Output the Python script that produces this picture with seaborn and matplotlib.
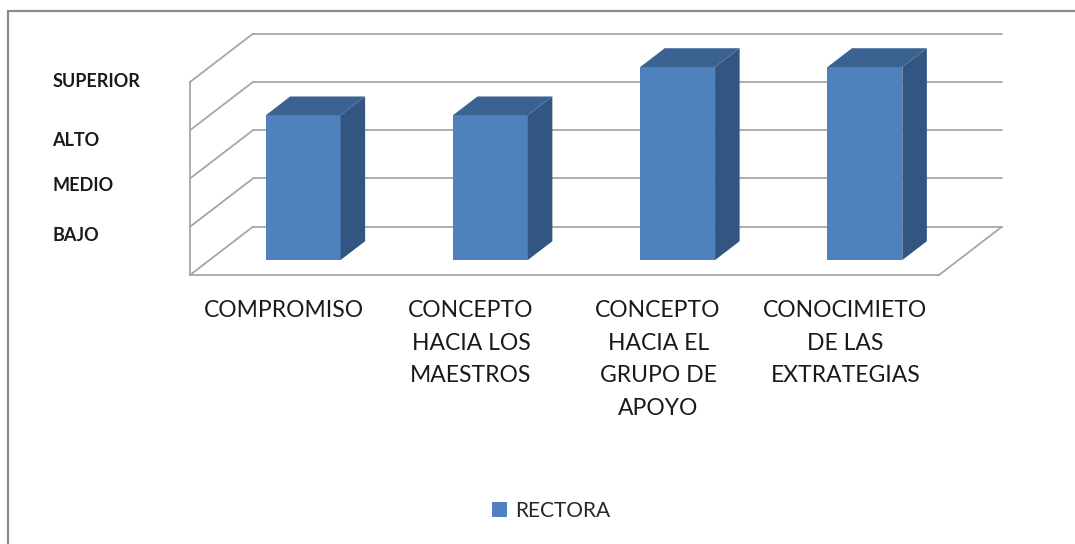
import matplotlib
matplotlib.use("Agg")
import matplotlib.pyplot as plt
import seaborn as sns
from matplotlib.patches import Polygon, Patch
from matplotlib.lines import Line2D

# -------------------------------
# Data
# -------------------------------
categories = [
    "COMPROMISO",
    "CONCEPTO\nHACIA LOS\nMAESTROS",
    "CONCEPTO\nHACIA EL\nGRUPO DE\nAPOYO",
    "CONOCIMIETO\nDE LAS\nEXTRATEGIAS",
]
rectora = [3, 3, 4, 4]
level_names = ["BAJO", "MEDIO", "ALTO", "SUPERIOR"]
level_values = [1, 2, 3, 4]
series_name = "RECTORA"

# -------------------------------
# Style
# -------------------------------
sns.set_style("white")
plt.rcParams["font.family"] = ["Lato", "DejaVu Sans"]

FRONT = "#4F81BD"
SIDE = "#325581"
TOP = "#3B6391"
GRID = "#A6A6A6"

# depth of the 3D box in data units (x: categories, y: levels)
DX, DY = 0.336, 1.0
BAR_FRONT = 0.31   # depth fraction where the bar front face sits
BAR_DEPTH = 0.39   # depth fraction of the bar itself

fig = plt.figure(figsize=(10.75, 5.44), dpi=100)
ax = fig.add_axes([190 / 1075, 1 - 275 / 544, 749 / 1075, 193 / 544])

# back wall + left wall gridlines
for lv in [0] + level_values:
    ax.plot([-0.5 + DX, 3.5 + DX], [lv + DY, lv + DY], color=GRID, lw=1.3,
            clip_on=False, zorder=1)
    ax.plot([-0.5, -0.5 + DX], [lv, lv + DY], color=GRID, lw=1.3,
            clip_on=False, zorder=1)
# right floor edge
ax.plot([3.5, 3.5 + DX], [0, DY], color=GRID, lw=1.3, clip_on=False, zorder=1)

# front faces through seaborn
sns.barplot(x=list(range(len(categories))), y=rectora, color=FRONT,
            width=0.4, saturation=1, ax=ax, zorder=3, linewidth=0)

for p in ax.patches:
    p.set_clip_on(False)
    p.set_x(p.get_x() + BAR_FRONT * DX)
    p.set_y(BAR_FRONT * DY)
    x0, y0 = p.get_x(), p.get_y()
    x1, y1 = x0 + p.get_width(), y0 + p.get_height()
    dx, dy = BAR_DEPTH * DX, BAR_DEPTH * DY
    side = Polygon([(x1, y0), (x1 + dx, y0 + dy), (x1 + dx, y1 + dy), (x1, y1)],
                   closed=True, facecolor=SIDE, edgecolor="none",
                   clip_on=False, zorder=3)
    top = Polygon([(x0, y1), (x1, y1), (x1 + dx, y1 + dy), (x0 + dx, y1 + dy)],
                  closed=True, facecolor=TOP, edgecolor="none",
                  clip_on=False, zorder=3)
    ax.add_patch(side)
    ax.add_patch(top)

ax.set_xlim(-0.5, 3.5)
ax.set_ylim(0, 4)

# axes and ticks
for s in ["top", "right"]:
    ax.spines[s].set_visible(False)
for s in ["left", "bottom"]:
    ax.spines[s].set_color(GRID)
    ax.spines[s].set_linewidth(1.3)
    ax.spines[s].set_zorder(2)

ax.set_xticks(range(len(categories)))
ax.set_xticklabels(categories, fontsize=16.5, linespacing=1.68, color="#1a1a1a")
ax.set_xticks([i - 0.5 for i in range(len(categories) + 1)], minor=True)
ax.tick_params(axis="x", which="major", length=0, pad=18)
ax.tick_params(axis="x", which="minor", length=6, color=GRID, width=1.3)

ax.set_yticks([0] + level_values)
ax.set_yticklabels([])
ax.tick_params(axis="y", length=6, color=GRID, width=1.3)

label_levels = [0.81, 1.85, 2.79, 4.02]
for name, lv in zip(level_names, label_levels):
    ax.text(-0.1842, lv, name, transform=ax.get_yaxis_transform(),
            ha="left", va="center", fontsize=13, fontweight="bold",
            color="#1a1a1a")
ax.set_xlabel("")
ax.set_ylabel("")

# legend
handle = Patch(facecolor=FRONT, edgecolor="none", label=series_name)
fig.legend(handles=[handle], loc="center", bbox_to_anchor=(551 / 1075, 1 - 511 / 544),
           frameon=False, fontsize=15, handlelength=0.72, handleheight=0.72,
           handletextpad=0.4)

# chart border
fig.add_artist(Line2D([8 / 1075, 1], [1 - 11 / 544, 1 - 11 / 544],
                      color="#8C8C8C", lw=1.6, transform=fig.transFigure))
fig.add_artist(Line2D([8 / 1075, 8 / 1075], [0, 1 - 11 / 544],
                      color="#8C8C8C", lw=1.6, transform=fig.transFigure))

fig.savefig("out.png", dpi=100)
